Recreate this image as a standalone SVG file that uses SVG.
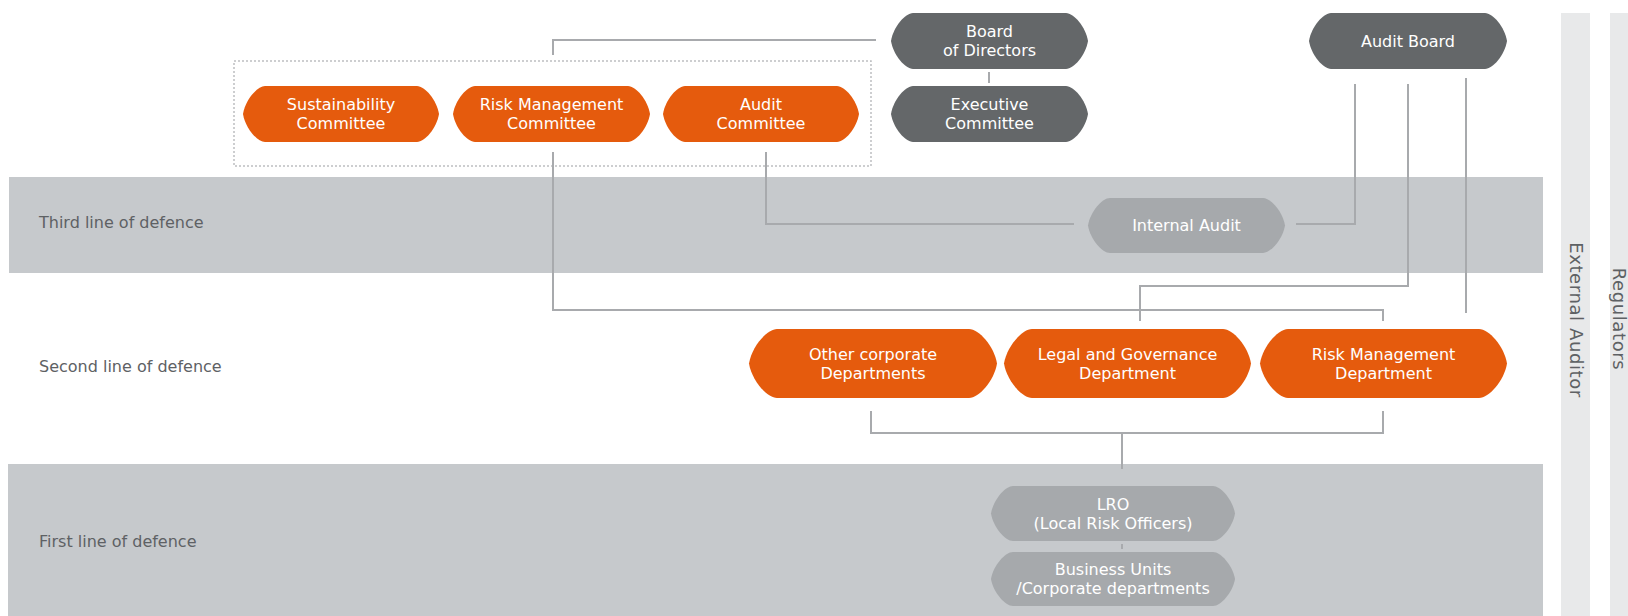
<svg xmlns="http://www.w3.org/2000/svg" width="1628" height="616" viewBox="0 0 1628 616">
<style>
.band{fill:#c6c9cc}
.side{fill:#e8e9ea}
.or{fill:#e55b0d}
.dk{fill:#646769}
.lt{fill:#a6a9ac}
.nt{font-family:"DejaVu Sans","Liberation Sans",sans-serif;font-size:16px;fill:#ffffff;text-anchor:middle}
.lb{font-family:"DejaVu Sans","Liberation Sans",sans-serif;font-size:16px;fill:#5e6164}
.vt{font-family:"DejaVu Sans","Liberation Sans",sans-serif;font-size:18px;letter-spacing:0.6px;fill:#5e6164;text-anchor:middle}
.cn{fill:none;stroke:#a8aaad;stroke-width:2}
.box{fill:none;stroke:#bdbfc1;stroke-width:1.5;stroke-dasharray:2 2}
</style>
<rect width="1628" height="616" fill="#ffffff"/>
<g id="bands">
<rect class="band" x="9" y="177" width="1534" height="96"/>
<rect class="band" x="8" y="464" width="1535" height="152"/>
<rect class="side" x="1561" y="13" width="29" height="603"/>
<rect class="side" x="1610" y="13" width="18" height="603"/>
</g>
<g id="labels">
<text class="lb" x="39" y="228">Third line of defence</text>
<text class="lb" x="39" y="372">Second line of defence</text>
<text class="lb" x="39" y="547">First line of defence</text>
<text class="vt" transform="translate(1570,320) rotate(90)">External Auditor</text>
<text class="vt" transform="translate(1613,319) rotate(90)">Regulators</text>
</g>
<rect id="committees-box" class="box" x="234" y="61" width="637" height="105"/>
<g id="connectors">
<path class="cn" d="M553 55V40H876"/>
<path class="cn" d="M989 72V83"/>
<path class="cn" d="M766 152V224H1074"/>
<path class="cn" d="M1296 224H1355V84"/>
<path class="cn" d="M553 152V310H1383V321"/>
<path class="cn" d="M1408 84V286H1140V321"/>
<path class="cn" d="M1466 78V313"/>
<path class="cn" d="M871 411V433H1383V411"/>
<path class="cn" d="M1122 433V469"/>
<path class="cn" d="M1122 544V549"/>
</g>
<g id="board">
<path class="dk" d="M913 13H1066C1073.7 13 1085.8 27 1088 41C1085.8 55 1073.7 69 1066 69H913C905.3 69 893.2 55 891 41C893.2 27 905.3 13 913 13Z"/>
<text class="nt" x="989.5" y="37">Board</text>
<text class="nt" x="989.5" y="56">of Directors</text>
</g>
<g id="audit-board">
<path class="dk" d="M1331 13H1485C1492.7 13 1504.8 27 1507 41C1504.8 55 1492.7 69 1485 69H1331C1323.3 69 1311.2 55 1309 41C1311.2 27 1323.3 13 1331 13Z"/>
<text class="nt" x="1408" y="47">Audit Board</text>
</g>
<g id="exec">
<path class="dk" d="M913 86H1066C1073.7 86 1085.8 100 1088 114C1085.8 128 1073.7 142 1066 142H913C905.3 142 893.2 128 891 114C893.2 100 905.3 86 913 86Z"/>
<text class="nt" x="989.5" y="110">Executive</text>
<text class="nt" x="989.5" y="129">Committee</text>
</g>
<g id="sustainability">
<path class="or" d="M265 86H417C424.7 86 436.8 100 439 114C436.8 128 424.7 142 417 142H265C257.3 142 245.2 128 243 114C245.2 100 257.3 86 265 86Z"/>
<text class="nt" x="341" y="110">Sustainability</text>
<text class="nt" x="341" y="129">Committee</text>
</g>
<g id="risk-committee">
<path class="or" d="M475 86H628C635.7 86 647.8 100 650 114C647.8 128 635.7 142 628 142H475C467.3 142 455.2 128 453 114C455.2 100 467.3 86 475 86Z"/>
<text class="nt" x="551.5" y="110">Risk Management</text>
<text class="nt" x="551.5" y="129">Committee</text>
</g>
<g id="audit-committee">
<path class="or" d="M685 86H837C844.7 86 856.8 100 859 114C856.8 128 844.7 142 837 142H685C677.3 142 665.2 128 663 114C665.2 100 677.3 86 685 86Z"/>
<text class="nt" x="761" y="110">Audit</text>
<text class="nt" x="761" y="129">Committee</text>
</g>
<g id="internal-audit">
<path class="lt" d="M1110 198H1263C1270.7 198 1282.8 211.75 1285 225.5C1282.8 239.25 1270.7 253 1263 253H1110C1102.3 253 1090.2 239.25 1088 225.5C1090.2 211.75 1102.3 198 1110 198Z"/>
<text class="nt" x="1186.5" y="231">Internal Audit</text>
</g>
<g id="other-departments">
<path class="or" d="M777 329H969C978.8 329 994.2 346.25 997 363.5C994.2 380.75 978.8 398 969 398H777C767.2 398 751.8 380.75 749 363.5C751.8 346.25 767.2 329 777 329Z"/>
<text class="nt" x="873" y="360">Other corporate</text>
<text class="nt" x="873" y="379">Departments</text>
</g>
<g id="legal">
<path class="or" d="M1032 329H1223C1232.8 329 1248.2 346.25 1251 363.5C1248.2 380.75 1232.8 398 1223 398H1032C1022.2 398 1006.8 380.75 1004 363.5C1006.8 346.25 1022.2 329 1032 329Z"/>
<text class="nt" x="1127.5" y="360">Legal and Governance</text>
<text class="nt" x="1127.5" y="379">Department</text>
</g>
<g id="risk-department">
<path class="or" d="M1288 329H1479C1488.8 329 1504.2 346.25 1507 363.5C1504.2 380.75 1488.8 398 1479 398H1288C1278.2 398 1262.8 380.75 1260 363.5C1262.8 346.25 1278.2 329 1288 329Z"/>
<text class="nt" x="1383.5" y="360">Risk Management</text>
<text class="nt" x="1383.5" y="379">Department</text>
</g>
<g id="lro">
<path class="lt" d="M1013 486H1213C1220.7 486 1232.8 499.75 1235 513.5C1232.8 527.25 1220.7 541 1213 541H1013C1005.3 541 993.2 527.25 991 513.5C993.2 499.75 1005.3 486 1013 486Z"/>
<text class="nt" x="1113" y="510">LRO</text>
<text class="nt" x="1113" y="529">(Local Risk Officers)</text>
</g>
<g id="business-units">
<path class="lt" d="M1013 552H1213C1220.7 552 1232.8 565.5 1235 579C1232.8 592.5 1220.7 606 1213 606H1013C1005.3 606 993.2 592.5 991 579C993.2 565.5 1005.3 552 1013 552Z"/>
<text class="nt" x="1113" y="575">Business Units</text>
<text class="nt" x="1113" y="594">/Corporate departments</text>
</g>
</svg>
